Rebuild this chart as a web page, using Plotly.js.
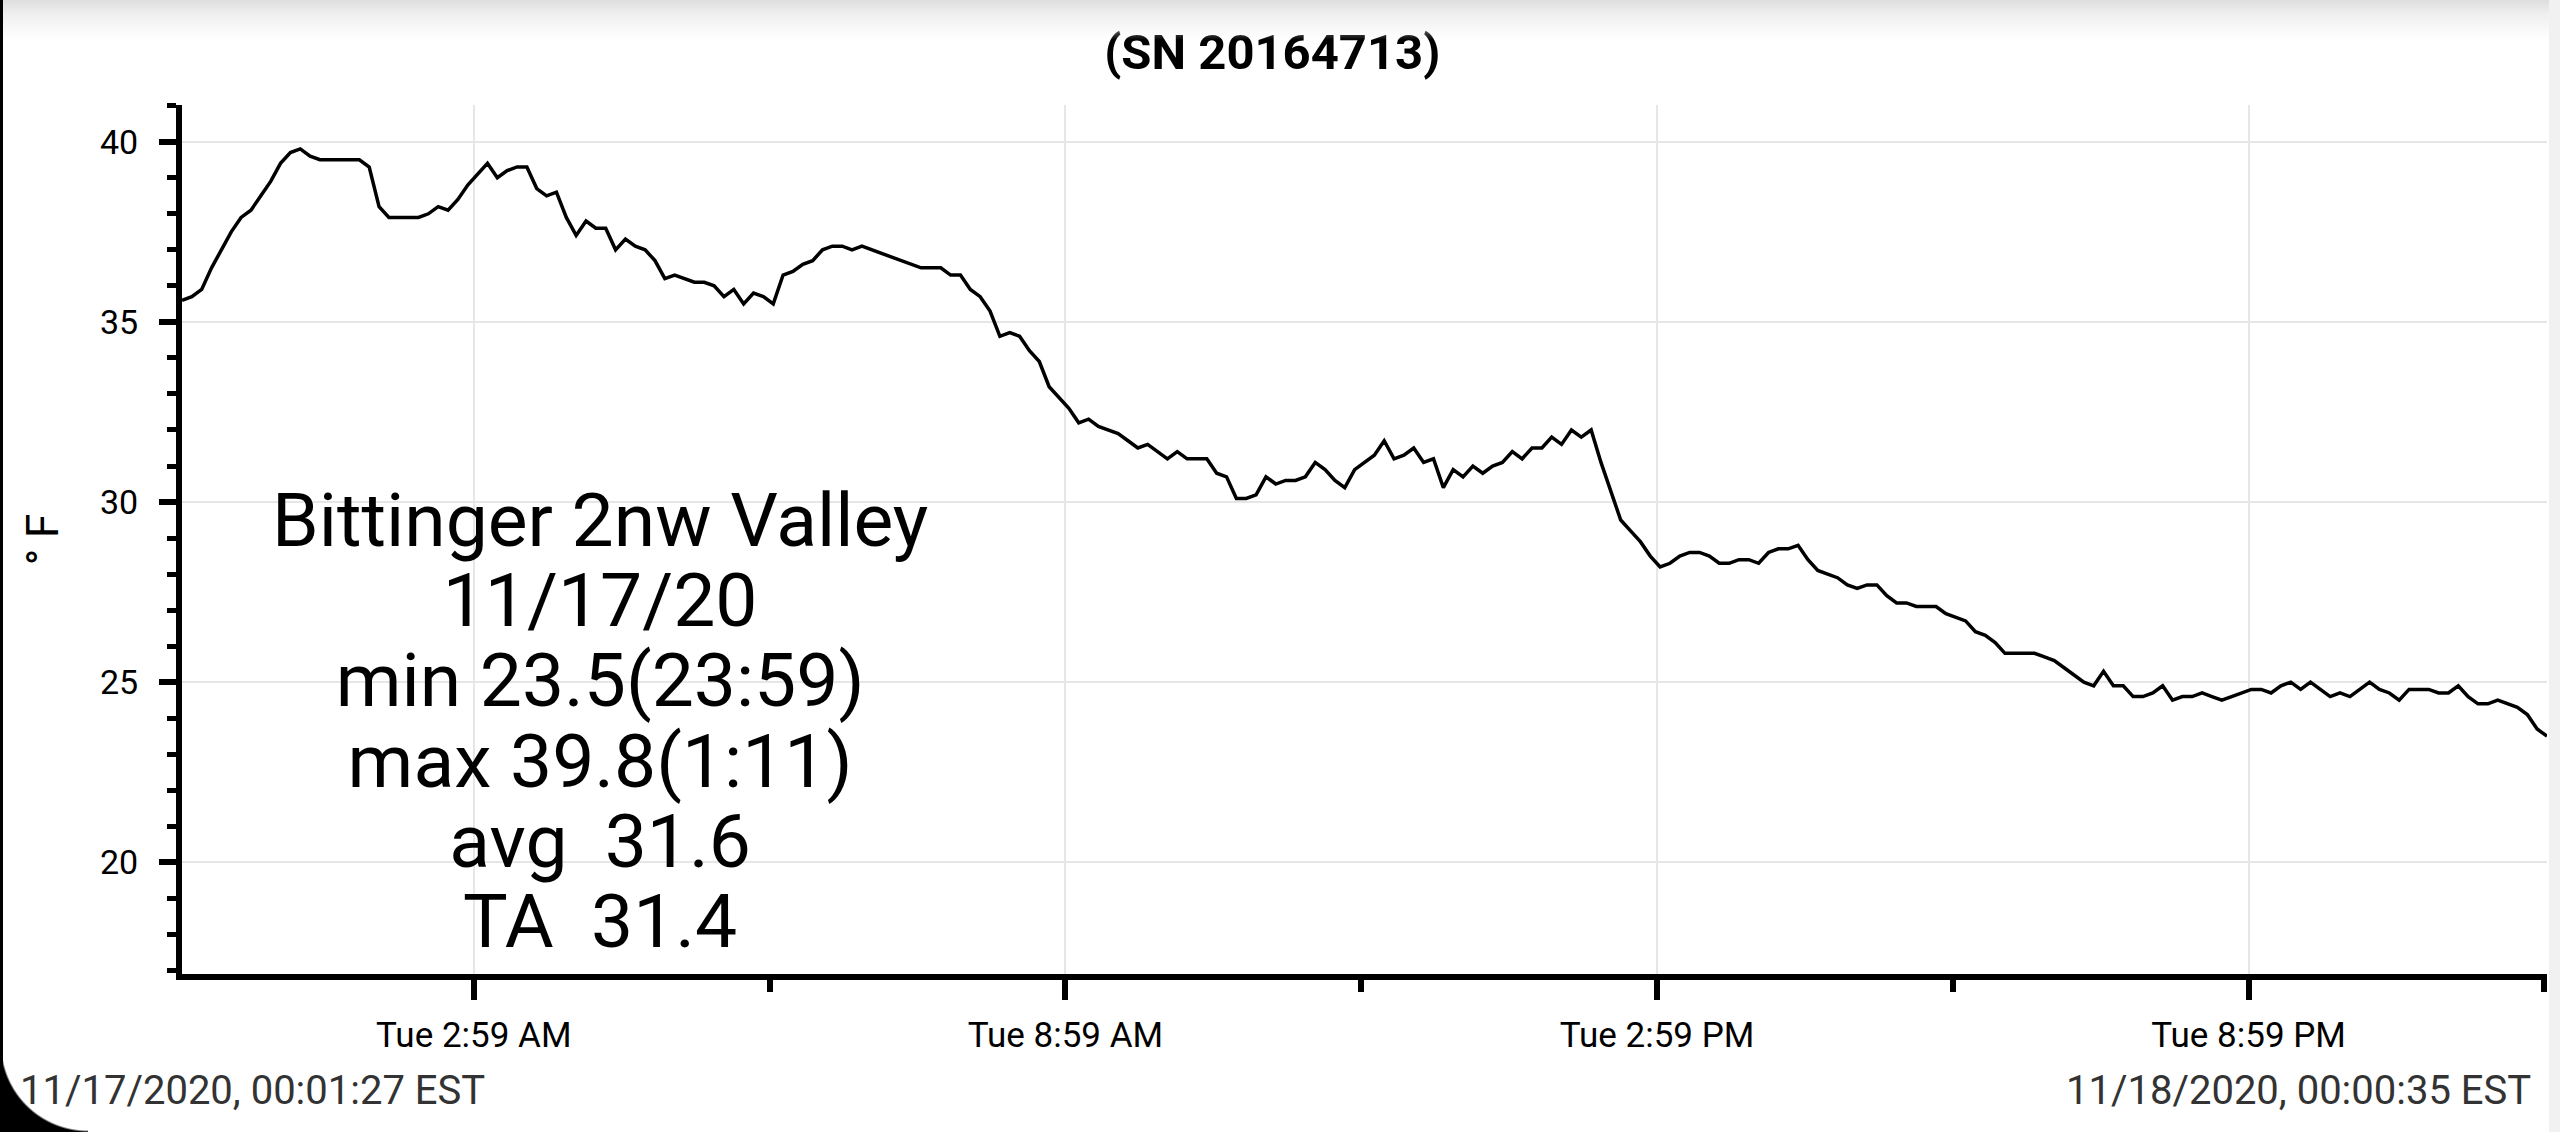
<!DOCTYPE html>
<html>
<head>
<meta charset="utf-8">
<script src="https://cdn.plot.ly/plotly-3.0.1.min.js"></script>
<style>
  html, body { margin: 0; padding: 0; background: #fff; overflow: hidden; }
  #chart { width: 2560px; height: 1132px; position: absolute; left: 0; top: 0; }
  .deco { position: absolute; pointer-events: none; z-index: 10; }
  #topShade { left: 0; top: 0; width: 2560px; height: 40px;
    background: linear-gradient(to bottom, #dedede 0%, #efefef 35%, rgba(255,255,255,0) 100%); }
  #leftEdge { left: 0; top: 0; width: 3px; height: 1132px; background: #000; }
  #rightEdge { left: 2549px; top: 0; width: 11px; height: 1132px; background: #f1f1f1; }
  #corner { left: 0; bottom: 0; width: 88px; height: 88px;
    background: radial-gradient(circle at 100% 0%, rgba(0,0,0,0) 86px, #000 88px); }
</style>
</head>
<body>
<div id="chart"></div>
<div class="deco" id="topShade"></div>
<div class="deco" id="leftEdge"></div>
<div class="deco" id="rightEdge"></div>
<div class="deco" id="corner"></div>
<script>
// ---- data ----
const chartTitle = '(SN 20164713)';
const startTime = '2020-11-17 00:01:27';
const endTime = '2020-11-18 00:00:35';
const tempsF = [
  35.6, 35.7, 35.9, 36.5, 37.0, 37.5, 37.9, 38.1, 38.5, 38.9,
  39.4, 39.7, 39.8, 39.6, 39.5, 39.5, 39.5, 39.5, 39.5, 39.3,
  38.2, 37.9, 37.9, 37.9, 37.9, 38.0, 38.2, 38.1, 38.4, 38.8,
  39.1, 39.4, 39.0, 39.2, 39.3, 39.3, 38.7, 38.5, 38.6, 37.9,
  37.4, 37.8, 37.6, 37.6, 37.0, 37.3, 37.1, 37.0, 36.7, 36.2,
  36.3, 36.2, 36.1, 36.1, 36.0, 35.7, 35.9, 35.5, 35.8, 35.7,
  35.5, 36.3, 36.4, 36.6, 36.7, 37.0, 37.1, 37.1, 37.0, 37.1,
  37.0, 36.9, 36.8, 36.7, 36.6, 36.5, 36.5, 36.5, 36.3, 36.3,
  35.9, 35.7, 35.3, 34.6, 34.7, 34.6, 34.2, 33.9, 33.2, 32.9,
  32.6, 32.2, 32.3, 32.1, 32.0, 31.9, 31.7, 31.5, 31.6, 31.4,
  31.2, 31.4, 31.2, 31.2, 31.2, 30.8, 30.7, 30.1, 30.1, 30.2,
  30.7, 30.5, 30.6, 30.6, 30.7, 31.1, 30.9, 30.6, 30.4, 30.9,
  31.1, 31.3, 31.7, 31.2, 31.3, 31.5, 31.1, 31.2, 30.4, 30.9,
  30.7, 31.0, 30.8, 31.0, 31.1, 31.4, 31.2, 31.5, 31.5, 31.8,
  31.6, 32.0, 31.8, 32.0, 31.1, 30.3, 29.5, 29.2, 28.9, 28.5,
  28.2, 28.3, 28.5, 28.6, 28.6, 28.5, 28.3, 28.3, 28.4, 28.4,
  28.3, 28.6, 28.7, 28.7, 28.8, 28.4, 28.1, 28.0, 27.9, 27.7,
  27.6, 27.7, 27.7, 27.4, 27.2, 27.2, 27.1, 27.1, 27.1, 26.9,
  26.8, 26.7, 26.4, 26.3, 26.1, 25.8, 25.8, 25.8, 25.8, 25.7,
  25.6, 25.4, 25.2, 25.0, 24.9, 25.3, 24.9, 24.9, 24.6, 24.6,
  24.7, 24.9, 24.5, 24.6, 24.6, 24.7, 24.6, 24.5, 24.6, 24.7,
  24.8, 24.8, 24.7, 24.9, 25.0, 24.8, 25.0, 24.8, 24.6, 24.7,
  24.6, 24.8, 25.0, 24.8, 24.7, 24.5, 24.8, 24.8, 24.8, 24.7,
  24.7, 24.9, 24.6, 24.4, 24.4, 24.5, 24.4, 24.3, 24.1, 23.7,
  23.5
];
const xTickVals = ['2020-11-17 02:59:00', '2020-11-17 08:59:00', '2020-11-17 14:59:00', '2020-11-17 20:59:00'];
const xTickText = ['Tue 2:59 AM', 'Tue 8:59 AM', 'Tue 2:59 PM', 'Tue 8:59 PM'];
const xMinorVals = ['2020-11-17 05:59:00', '2020-11-17 11:59:00', '2020-11-17 17:59:00', '2020-11-17 23:59:00'];
const yAxisTitle = '° F';
const yRange = [16.9, 41.02];
const statLines = ['Bittinger 2nw Valley', '11/17/20', 'min 23.5(23:59)', 'max 39.8(1:11)', 'avg  31.6', 'TA  31.4'];
const startLabel = '11/17/2020, 00:01:27 EST';
const endLabel = '11/18/2020, 00:00:35 EST';

// ---- timestamps: logger samples evenly spaced between first and last reading ----
function toMs(s) { const [d, t] = s.split(' '); const [Y, M, D] = d.split('-').map(Number); const [h, m, sec] = t.split(':').map(Number); return Date.UTC(Y, M - 1, D, h, m, sec); }
function fmt(ms) { return new Date(ms).toISOString().slice(0, 19).replace('T', ' '); }
const t0 = toMs(startTime), t1 = toMs(endTime);
const step = (t1 - t0) / (tempsF.length - 1);
const times = tempsF.map((_, i) => fmt(t0 + i * step));

// ---- layout geometry (pixels) ----
const W = 2560, H = 1132;
const M = { l: 182, r: 13, t: 105, b: 158 };
const plotW = W - M.l - M.r, plotH = H - M.t - M.b;
const px2x = px => (px - M.l) / plotW;
const px2y = py => (H - M.b - py) / plotH;

// one multi-line block: base font sets the line pitch (1.3em = ~80px), spans set glyph size
const statSize = 75, statPitchFont = 61.7;
const statText = statLines.map(s => '<span style="font-size:' + statSize + 'px">' + s + '</span>').join('<br>');
const annotations = [{
  xref: 'paper', yref: 'paper', x: px2x(600), y: px2y(720),
  xanchor: 'center', yanchor: 'middle', align: 'center', showarrow: false, text: statText,
  font: { family: 'Roboto', size: statPitchFont, color: '#000' }
}];
annotations.push({
  xref: 'paper', yref: 'paper', x: px2x(18), y: px2y(1090), xanchor: 'left', yanchor: 'middle',
  showarrow: false, text: startLabel, font: { family: 'Roboto', size: 40, color: '#333' }
});
annotations.push({
  xref: 'paper', yref: 'paper', x: px2x(2533), y: px2y(1090), xanchor: 'right', yanchor: 'middle',
  showarrow: false, text: endLabel, font: { family: 'Roboto', size: 40, color: '#333' }
});

const trace = {
  type: 'scatter', mode: 'lines', x: times, y: tempsF,
  line: { color: '#000', width: 3.5 }, hoverinfo: 'x+y', showlegend: false
};

const layout = {
  width: W, height: H, margin: M,
  paper_bgcolor: '#fff', plot_bgcolor: '#fff',
  font: { family: 'Roboto', color: '#000' },
  title: {
    text: chartTitle, xref: 'container', yref: 'container', x: 0.497, y: 1 - 52 / H,
    xanchor: 'center', yanchor: 'middle',
    font: { family: 'Roboto', size: 49, weight: 'bold', color: '#000' }
  },
  xaxis: {
    type: 'date', range: [startTime, endTime],
    tickmode: 'array', tickvals: xTickVals, ticktext: xTickText,
    ticks: 'outside', ticklen: 20, tickwidth: 6, tickcolor: '#000',
    showline: true, linewidth: 6, linecolor: '#000', mirror: false,
    showgrid: true, gridcolor: '#e6e6e6', gridwidth: 2, zeroline: false,
    tickfont: { family: 'Roboto', size: 35, color: '#000' }, ticklabelstandoff: 5,
    minor: { tickmode: 'array', tickvals: xMinorVals, ticks: 'outside', ticklen: 12, tickwidth: 6, tickcolor: '#000', showgrid: false },
    fixedrange: true
  },
  yaxis: {
    range: yRange, tickmode: 'linear', tick0: 0, dtick: 5,
    ticks: 'outside', ticklen: 17, tickwidth: 6, tickcolor: '#000',
    showline: true, linewidth: 6, linecolor: '#000',
    showgrid: true, gridcolor: '#e6e6e6', gridwidth: 2, zeroline: false,
    tickfont: { family: 'Roboto', size: 34, color: '#000' }, ticklabelstandoff: 14,
    minor: { tickmode: 'linear', tick0: 0, dtick: 1, ticks: 'outside', ticklen: 9, tickwidth: 5, tickcolor: '#000', showgrid: false },
    title: { text: yAxisTitle, font: { family: 'Roboto', size: 44, color: '#000' }, standoff: 30 },
    fixedrange: true
  },
  annotations: annotations,
  showlegend: false
};

Plotly.newPlot('chart', [trace], layout, { displayModeBar: false, staticPlot: true });
</script>
</body>
</html>
